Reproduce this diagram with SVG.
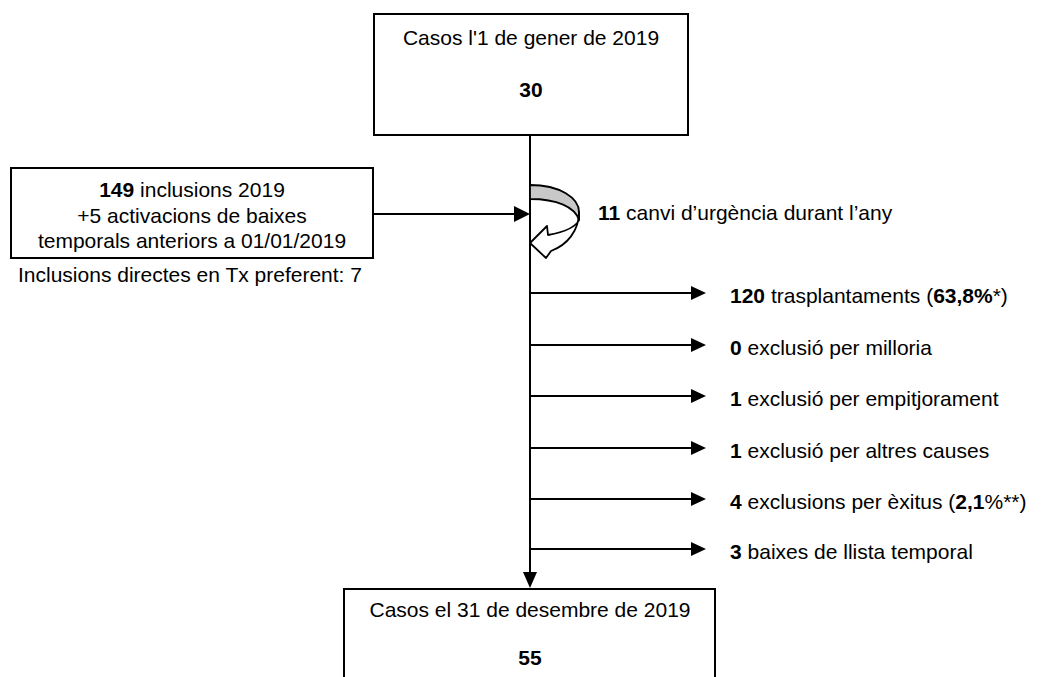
<svg xmlns="http://www.w3.org/2000/svg" width="1043" height="677" viewBox="0 0 1043 677">
<style>
  .box { fill: #ffffff; stroke: #000000; stroke-width: 2; }
  .t { font-family: "Liberation Sans", Arial, sans-serif; font-size: 21px; fill: #000000; }
  .c { text-anchor: middle; }
  .b { font-weight: bold; }
  .ln { stroke: #000000; stroke-width: 2; fill: none; }
  .ah { fill: #000000; stroke: none; }
</style>
<rect x="0" y="0" width="1043" height="677" fill="#ffffff"/>

<g id="connectors">
  <line class="ln" x1="530" y1="135" x2="530" y2="574"/>
  <polygon class="ah" points="523,572 537,572 530,588"/>
  <line class="ln" x1="373" y1="214" x2="516" y2="214"/>
  <polygon class="ah" points="514,206 514,222 530,214"/>
  <g id="branches">
    <line class="ln" x1="530" y1="293" x2="692" y2="293"/>
    <polygon class="ah" points="691,286 691,300 706,293"/>
    <line class="ln" x1="530" y1="345" x2="692" y2="345"/>
    <polygon class="ah" points="691,338 691,352 706,345"/>
    <line class="ln" x1="530" y1="396" x2="692" y2="396"/>
    <polygon class="ah" points="691,389 691,403 706,396"/>
    <line class="ln" x1="530" y1="448" x2="692" y2="448"/>
    <polygon class="ah" points="691,441 691,455 706,448"/>
    <line class="ln" x1="530" y1="499" x2="692" y2="499"/>
    <polygon class="ah" points="691,492 691,506 706,499"/>
    <line class="ln" x1="530" y1="549" x2="692" y2="549"/>
    <polygon class="ah" points="691,542 691,556 706,549"/>
  </g>
  <g id="curved-arrow">
    <path d="M530,185 C560,185 579,198 579,212 L579,220 C575,207 557,199 530,199 Z" fill="#c8c8c8" stroke="#000000" stroke-width="1.8" stroke-linejoin="round"/>
    <path d="M579,212 C579,231 567,245 551,251 L546,258 L530,243 L547,226 L548,235 C564,232 576,227 579,220 Z" fill="#ffffff" stroke="#000000" stroke-width="1.8" stroke-linejoin="round"/>
  </g>
</g>

<g id="node-start">
  <rect class="box" x="374" y="14" width="314" height="121"/>
  <text class="t c" x="531" y="45">Casos l'1 de gener de 2019</text>
  <text class="t c b" x="531" y="97">30</text>
</g>

<g id="node-inclusions">
  <rect class="box" x="11" y="168" width="362" height="90"/>
  <text class="t c" x="192" y="197"><tspan class="b">149</tspan> inclusions 2019</text>
  <text class="t c" x="192" y="223">+5 activacions de baixes</text>
  <text class="t c" x="192" y="248">temporals anteriors a 01/01/2019</text>
</g>

<g id="note-direct">
  <text class="t" x="18" y="282">Inclusions directes en Tx preferent: 7</text>
</g>

<g id="label-urgencia">
  <text class="t" x="598" y="220"><tspan class="b">11</tspan> canvi d’urgència durant l’any</text>
</g>

<g id="label-tx"><text class="t" x="730" y="303"><tspan class="b">120</tspan> trasplantaments (<tspan class="b">63,8%</tspan>*)</text></g>
<g id="label-milloria"><text class="t" x="730" y="355"><tspan class="b">0</tspan> exclusió per milloria</text></g>
<g id="label-empitjorament"><text class="t" x="730" y="406"><tspan class="b">1</tspan> exclusió per empitjorament</text></g>
<g id="label-altres"><text class="t" x="730" y="458"><tspan class="b">1</tspan> exclusió per altres causes</text></g>
<g id="label-exitus"><text class="t" x="730" y="509"><tspan class="b">4</tspan> exclusions per èxitus (<tspan class="b">2,1</tspan>%**)</text></g>
<g id="label-baixes"><text class="t" x="730" y="559"><tspan class="b">3</tspan> baixes de llista temporal</text></g>

<g id="node-end">
  <rect class="box" x="344" y="589" width="371" height="110"/>
  <text class="t c" x="530" y="617">Casos el 31 de desembre de 2019</text>
  <text class="t c b" x="530" y="665">55</text>
</g>
</svg>
